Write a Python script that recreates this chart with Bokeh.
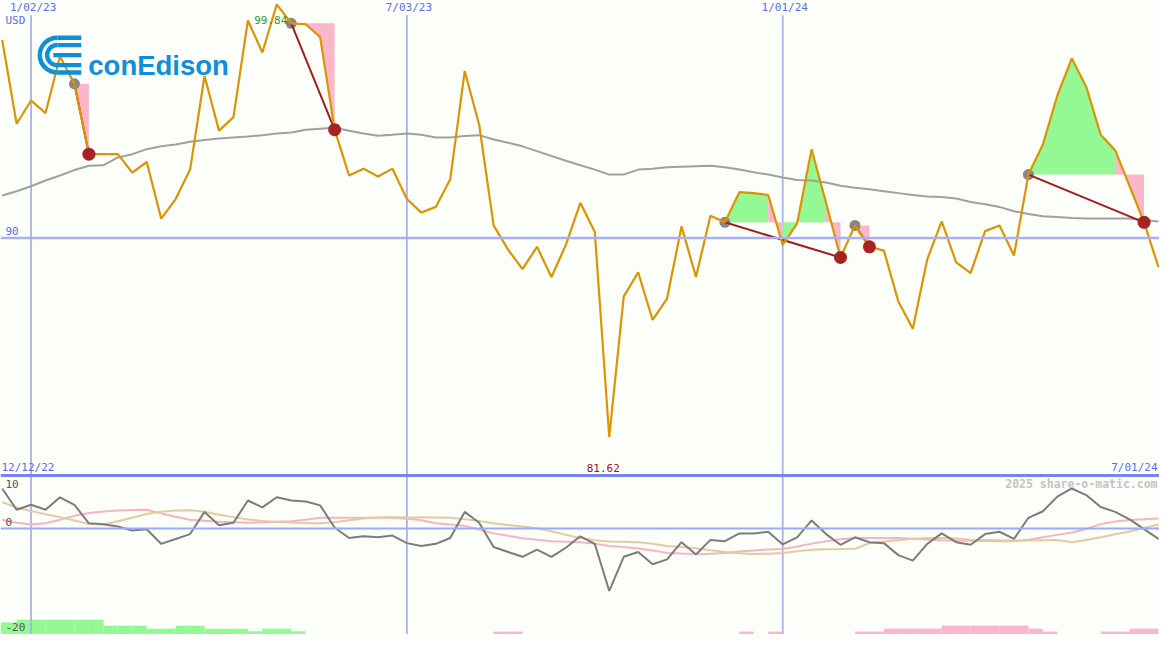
import math
import pandas as pd
from bokeh.plotting import figure
from bokeh.models import Range1d, Span, Label
from bokeh.embed import file_html
from bokeh.resources import INLINE

# ---------------- data (weekly, Monday dates) ----------------
first_date = "2022-12-19"
n_weeks = 81
dates = pd.date_range(first_date, periods=n_weeks, freq="7D")

price = [98.34, 94.81, 95.79, 95.26, 97.64, 96.49, 93.53, 93.53, 93.53, 92.75,
         93.20, 90.82, 91.64, 92.88, 96.82, 94.52, 95.09, 99.16, 97.81, 99.84,
         99.04, 99.00, 98.46, 94.56, 92.63, 92.92, 92.59, 92.92, 91.64, 91.07,
         91.31, 92.47, 97.03, 94.77, 90.53, 89.51, 88.69, 89.63, 88.36, 89.71,
         91.48, 90.25, 81.62, 87.53, 88.56, 86.55, 87.45, 90.49, 88.36, 90.94,
         90.66, 91.93, 91.89, 91.81, 89.71, 90.62, 93.74, 91.48, 89.18, 90.53,
         89.63, 89.47, 87.33, 86.18, 89.10, 90.70, 88.97, 88.52, 90.29, 90.53,
         89.26, 92.67, 93.94, 96.00, 97.56, 96.37, 94.35, 93.70, 92.18, 90.66,
         88.77]

moving_avg = [91.79, 91.97, 92.18, 92.42, 92.63, 92.86, 93.04, 93.06, 93.39, 93.53,
              93.74, 93.86, 93.94, 94.05, 94.13, 94.19, 94.23, 94.27, 94.33, 94.40,
              94.44, 94.56, 94.60, 94.64, 94.52, 94.40, 94.31, 94.35, 94.40, 94.35,
              94.23, 94.23, 94.29, 94.33, 94.15, 94.01, 93.86, 93.66, 93.45, 93.25,
              93.06, 92.88, 92.67, 92.67, 92.88, 92.92, 92.98, 93.00, 93.02, 93.04,
              92.98, 92.88, 92.77, 92.67, 92.55, 92.44, 92.42, 92.34, 92.20, 92.12,
              92.05, 91.97, 91.89, 91.81, 91.75, 91.73, 91.66, 91.52, 91.42, 91.31,
              91.13, 91.01, 90.92, 90.88, 90.84, 90.82, 90.82, 90.82, 90.82, 90.76,
              90.70]

momentum = [7.55, 3.55, 4.47, 3.55, 5.89, 4.47, 0.98, 0.79, 0.37, -0.37,
            -0.13, -2.89, -1.97, -1.05, 3.13, 0.61, 1.10, 5.28, 3.99, 5.89,
            5.28, 5.10, 4.36, 0.18, -1.79, -1.47, -1.66, -1.34, -2.76, -3.31,
            -2.89, -1.79, 3.13, 1.10, -3.50, -4.42, -5.34, -3.99, -5.34, -3.63,
            -1.47, -2.89, -11.78, -5.34, -4.42, -6.75, -5.83, -2.58, -4.91, -2.15,
            -2.39, -0.92, -0.92, -0.61, -3.00, -1.66, 1.53, -1.05, -3.07, -1.66,
            -2.58, -2.76, -5.02, -6.07, -2.89, -0.92, -2.58, -3.07, -1.05, -0.61,
            -1.97, 2.02, 3.26, 6.02, 7.55, 6.31, 4.05, 3.13, 1.71, -0.13,
            -1.97]

osc_pink = [1.66, 1.10, 0.74, 1.01, 1.66, 2.39, 2.94, 3.22, 3.41, 3.50,
            3.55, 2.85, 2.21, 1.66, 1.47, 1.29, 1.20, 1.10, 1.20, 1.29,
            1.38, 1.66, 2.02, 2.02, 2.02, 2.02, 2.02, 2.02, 1.84, 1.56,
            1.01, 0.74, 0.50, -0.18, -0.92, -1.38, -1.84, -2.12, -2.39, -2.48,
            -2.58, -2.85, -3.31, -3.50, -3.77, -4.14, -4.60, -4.73, -4.82, -4.75,
            -4.60, -4.36, -4.14, -3.96, -3.87, -3.41, -2.85, -2.39, -2.02, -1.79,
            -1.79, -1.79, -1.79, -1.93, -2.08, -2.21, -2.26, -2.30, -2.36, -2.39,
            -2.39, -2.12, -1.66, -1.20, -0.74, -0.09, 0.83, 1.33, 1.62, 1.75,
            1.90]

osc_tan = [4.97, 3.96, 3.31, 2.71, 2.15, 1.51, 0.83, 0.74, 1.38, 2.02,
           2.72, 3.18, 3.41, 3.44, 3.17, 2.61, 2.15, 1.71, 1.44, 1.25,
           1.14, 1.01, 0.98, 1.20, 1.56, 1.90, 2.06, 2.14, 2.10, 2.14,
           2.08, 2.02, 1.75, 1.44, 1.01, 0.66, 0.37, 0.04, -0.52, -1.20,
           -1.79, -2.21, -2.43, -2.50, -2.58, -2.87, -3.29, -3.50, -3.74, -4.10,
           -4.42, -4.69, -4.82, -4.75, -4.64, -4.29, -3.99, -3.92, -3.87, -3.81,
           -2.76, -2.47, -2.21, -1.93, -1.79, -1.79, -1.88, -2.10, -2.15, -2.21,
           -2.26, -2.25, -2.21, -2.17, -2.58, -2.15, -1.66, -1.10, -0.55, 0.09,
           0.77]

# signed histogram at the foot of the lower panel (+ green, - pink)
hist = [2.27, 2.76, 2.76, 2.76, 2.76, 2.76, 2.76, 1.66, 1.66, 1.66,
        1.10, 1.10, 1.66, 1.66, 1.10, 1.10, 1.10, 0.61, 1.10, 1.10,
        0.61, 0, 0, 0, 0, 0, 0, 0, 0, 0,
        0, 0, 0, 0, -0.55, -0.55, 0, 0, 0, 0,
        0, 0, 0, 0, 0, 0, 0, 0, 0, 0,
        0, -0.55, 0, -0.55, 0, 0, 0, 0, 0, -0.55,
        -0.55, -1.10, -1.10, -1.10, -1.10, -1.66, -1.66, -1.66, -1.66, -1.66,
        -1.66, -1.10, -0.55, 0, 0, 0, -0.55, -0.55, -1.10, -1.10,
        0]

# trade episodes (entry, exit) and the weeks whose following segment is shaded pink
episodes = [("2023-01-23", "2023-01-30"),
            ("2023-05-08", "2023-05-29"),
            ("2023-12-04", "2024-01-29"),
            ("2024-02-05", "2024-02-12"),
            ("2024-04-29", "2024-06-24")]
pink_weeks = ["2023-01-23", "2023-05-08", "2023-05-15", "2023-05-22",
              "2023-12-25", "2024-01-22", "2024-02-05", "2024-06-10", "2024-06-17"]

tick_dates = ["2023-01-02", "2023-07-03", "2024-01-01"]
tick_labels = ["1/02/23", "7/03/23", "1/01/24"]
price_level_label = 90
osc_labels = [10, 0, -20]
start_label = "12/12/22"
end_label = "7/01/24"
currency = "USD"
credit = "2025 share-o-matic.com"

# ---------------- layout ----------------
REF_W, REF_H = 1175, 650
W, H = 1159, 634
PRICE_LO, PRICE_HI = 80.0, 100.0
OSC_LO, OSC_HI = -20.0, 10.0
PANEL_SPLIT = 487  # reference px where the lower panel starts

price_bottom = PRICE_HI - (PRICE_HI - PRICE_LO) * REF_H / PANEL_SPLIT
osc_top = OSC_LO + (OSC_HI - OSC_LO) * REF_H / (REF_H - PANEL_SPLIT)

def ms(d):
    return pd.Timestamp(d).value / 1e6

x_left = ms(dates[0]) - 0.81 * 86400000
x_right = ms(dates[-1]) + 0.48 * 86400000

def X(px):
    return x_left + px / REF_W * (x_right - x_left)

def Y(py):
    return PRICE_HI - py / REF_H * (PRICE_HI - price_bottom)

S = (W / REF_W + H / REF_H) / 2

BG = "#fcfefa"
BLUE_TXT = "#5b6cf0"
GRID = "#a6b0f4"
ORANGE = "#dc9402"
GREEN_F = "#94f894"
PINK_F = "#fab6ca"
DARKRED = "#a31c1c"
MONO = "DejaVu Sans Mono"

p = figure(width=W, height=H, x_range=Range1d(x_left, x_right),
           y_range=Range1d(price_bottom, PRICE_HI),
           output_backend="svg", toolbar_location=None, min_border=0,
           x_axis_location=None, y_axis_location=None,
           background_fill_color=BG, border_fill_color=BG, outline_line_color=None)
p.grid.visible = False
p.extra_y_ranges = {"osc": Range1d(OSC_LO, osc_top)}

xs = [ms(d) for d in dates]
week_ms = 7 * 86400000

# histogram bars
bl, br, bt, bc = [], [], [], []
for i, h in enumerate(hist):
    if h != 0:
        bl.append(xs[i] if i > 0 else x_left); br.append(xs[i] + week_ms)
        bt.append(OSC_LO + abs(h)); bc.append(GREEN_F if h > 0 else PINK_F)
p.quad(left=bl, right=br, bottom=OSC_LO, top=bt, fill_color=bc, line_color=None,
       y_range_name="osc")

# grid / separators
p.add_layout(Span(location=price_level_label, dimension="width", line_color=GRID, line_width=2.4))
p.add_layout(Span(location=0, dimension="width", line_color="#9eaaf2", line_width=2.2,
                  y_range_name="osc"))
p.segment(x0=[ms(d) for d in tick_dates], y0=Y(15), x1=[ms(d) for d in tick_dates],
          y1=price_bottom, line_color=GRID, line_width=1.8)
p.add_layout(Span(location=PRICE_LO, dimension="width", line_color="#7486ee", line_width=3))

# shaded episode areas
idx = {d.strftime("%Y-%m-%d"): i for i, d in enumerate(dates)}
pink_set = set(pink_weeks)
for e, x in episodes:
    i0, i1 = idx[e], idx[x]
    level = price[i0]
    runs = []
    for i in range(i0, i1):
        col = PINK_F if dates[i].strftime("%Y-%m-%d") in pink_set else GREEN_F
        if runs and runs[-1][2] == col:
            runs[-1][1] = i + 1
        else:
            runs.append([i, i + 1, col])
    for a, b, col in runs:
        p.varea(x=xs[a:b + 1], y1=[level] * (b - a + 1), y2=price[a:b + 1],
                fill_color=col, fill_alpha=1)

# moving average
p.line(xs, moving_avg, line_color="#a0a0a0", line_width=2)

ent_i = [idx[e] for e, _ in episodes]
ext_i = [idx[x] for _, x in episodes]
p.scatter([xs[i] for i in ent_i], [price[i] for i in ent_i], size=11, marker="circle",
          fill_color="#868686", line_color=None)
p.segment(x0=[xs[i] for i in ent_i], y0=[price[i] for i in ent_i],
          x1=[xs[i] for i in ext_i], y1=[price[i] for i in ext_i],
          line_color=DARKRED, line_width=2)
p.line(xs, price, line_color=ORANGE, line_width=2.2)
p.scatter([xs[i] for i in ext_i], [price[i] for i in ext_i], size=13, marker="circle",
          fill_color="#a82222", line_color=None)

# lower panel lines
p.line(xs, osc_pink, line_color="#f8b2c6", line_width=2, y_range_name="osc")
p.line(xs, osc_tan, line_color="#e2cb9e", line_width=2, y_range_name="osc")
p.line(xs, momentum, line_color="#7c7c7c", line_width=2, y_range_name="osc")

# ---------------- texts ----------------
def lab(**kw):
    base = dict(text_font=MONO, text_font_size="11px")
    base.update(kw)
    p.add_layout(Label(**base))

for d, t in zip(tick_dates, tick_labels):
    lab(x=ms(d), y=Y(7.5), text=t, text_align="center", text_baseline="middle",
        text_color=BLUE_TXT, x_offset=2)
lab(x=X(5), y=Y(20), text=currency, text_align="left", text_baseline="middle", text_color=BLUE_TXT)
lab(x=X(5), y=price_level_label, text=str(price_level_label), text_align="left",
    text_baseline="middle", y_offset=7, text_color=BLUE_TXT)

imax = max(range(n_weeks), key=lambda i: price[i])
imin = min(range(n_weeks), key=lambda i: price[i])
lab(x=xs[imax], y=price[imax], text=f"{price[imax]:.2f}", text_align="center",
    text_baseline="middle", x_offset=-6, y_offset=-16, text_color="#2f9a2f")
lab(x=xs[imin], y=PRICE_LO, text=f"{price[imin]:.2f}", text_align="center",
    text_baseline="middle", x_offset=-6, y_offset=8, text_color="#a01414")
lab(x=X(1), y=PRICE_LO, text=start_label, text_align="left", text_baseline="middle",
    y_offset=8, text_color=BLUE_TXT)
lab(x=X(1173), y=PRICE_LO, text=end_label, text_align="right", text_baseline="middle",
    y_offset=8, text_color=BLUE_TXT)
lab(x=X(1173), y=Y(496), text=credit, text_align="right", text_baseline="middle",
    text_color="#c4c4c4", text_font_style="bold", text_font_size="11.5px")

lab(x=X(5), y=Y(496), text=str(osc_labels[0]), text_align="left", text_baseline="middle",
    text_color="#555555")
lab(x=X(5), y=0, text=str(osc_labels[1]), text_align="left", text_baseline="middle",
    y_offset=7, text_color="#555555", y_range_name="osc")
lab(x=X(5), y=Y(642.5), text=str(osc_labels[2]), text_align="left", text_baseline="middle",
    text_color="#555555")

# ---------------- logo ----------------
LOGO = "#0d8fd9"
cx, cy = 57.5, 56
for r_out, r_in in [(20, 15.5), (12.5, 8)]:
    p.annular_wedge(x=X(cx), y=Y(cy), inner_radius=r_in * S, outer_radius=r_out * S,
                    start_angle=math.pi / 2, end_angle=3 * math.pi / 2,
                    inner_radius_units="screen", outer_radius_units="screen",
                    fill_color=LOGO, line_color=None)
    mid = (r_out + r_in) / 2
    for sgn in (-1, 1):
        p.rect(x=X((cx + 82) / 2), y=Y(cy + sgn * mid), width=(82 - cx) * S,
               height=(r_out - r_in) * S, width_units="screen", height_units="screen",
               fill_color=LOGO, line_color=None)
p.rect(x=X((cx - 4 + 82) / 2), y=Y(cy), width=(82 - cx + 4) * S, height=4.5 * S,
       width_units="screen", height_units="screen", fill_color=LOGO, line_color=None)
p.add_layout(Label(x=X(89), y=Y(66.5), text="conEdison", text_font="Liberation Sans",
                   text_font_style="bold", text_font_size="27.5px", text_color=LOGO,
                   text_align="left", text_baseline="alphabetic"))

open("out.html", "w").write(file_html(p, INLINE))
